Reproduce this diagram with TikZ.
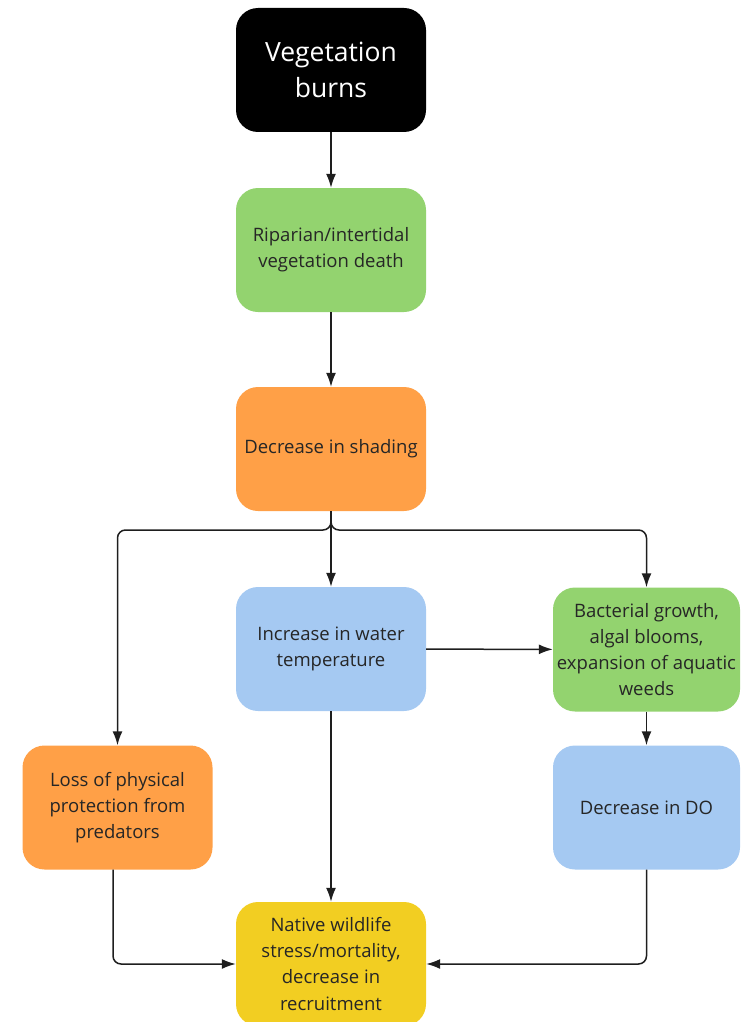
\documentclass[tikz,border=0pt]{standalone}
\usepackage{fontspec}
\setmainfont{Open Sans}
\usetikzlibrary{arrows.meta}
\definecolor{cgreen}{HTML}{93D36F}
\definecolor{corange}{HTML}{FFA047}
\definecolor{cblue}{HTML}{A5C9F2}
\definecolor{cyellow}{HTML}{F2CE22}
\definecolor{ctext}{HTML}{262626}
\definecolor{cline}{HTML}{1E1E1E}
\tikzset{
  box/.style={rounded corners=22pt, minimum width=190pt, minimum height=124pt,
    align=center, text=ctext, font=\fontsize{18.5}{26}\selectfont, inner sep=0pt},
  conn/.style={draw=cline, line width=1.5pt, -{Latex[length=14pt,width=10pt]}, rounded corners=8pt}
}
\begin{document}
\begin{tikzpicture}[x=1pt,y=-1pt]
\useasboundingbox (0,0) rectangle (742,1022);
\node[box, fill=black, text=white, font=\fontsize{26.5}{36}\selectfont] (vb) at (331,70) {Vegetation\\burns};
\node[box, fill=cgreen] (rip) at (331,250) {Riparian/intertidal\\vegetation death};
\node[box, fill=corange] (shade) at (331,449) {Decrease in shading};
\node[box, fill=cblue] (temp) at (331,649) {Increase in water\\temperature};
\node[box, fill=cgreen, minimum width=187pt] (bact) at (646.5,649.5) {Bacterial growth,\\algal blooms,\\expansion of aquatic\\weeds};
\node[box, fill=cblue, minimum width=187pt] (do) at (646.5,807.5) {Decrease in DO};
\node[box, fill=corange] (loss) at (117.5,807.5) {Loss of physical\\protection from\\predators};
\node[box, fill=cyellow] (nat) at (331,964) {Native wildlife\\stress/mortality,\\decrease in\\recruitment};
\coordinate (j) at (331,530);
\draw[conn] (vb) -- (rip);
\draw[conn] (rip) -- (shade);
\draw[conn] (shade) -- (temp);
\draw[conn] (shade.south) -- (j) -| (loss.north);
\draw[conn] (shade.south) -- (j) -| (bact.north);
\draw[conn] (temp) -- (bact);
\draw[conn] (bact) -- (do);
\draw[conn] (temp) -- (nat);
\draw[conn] ([xshift=-4.5pt]loss.south) |- (nat.west);
\draw[conn] (do.south) |- (nat.east);
\end{tikzpicture}
\end{document}
